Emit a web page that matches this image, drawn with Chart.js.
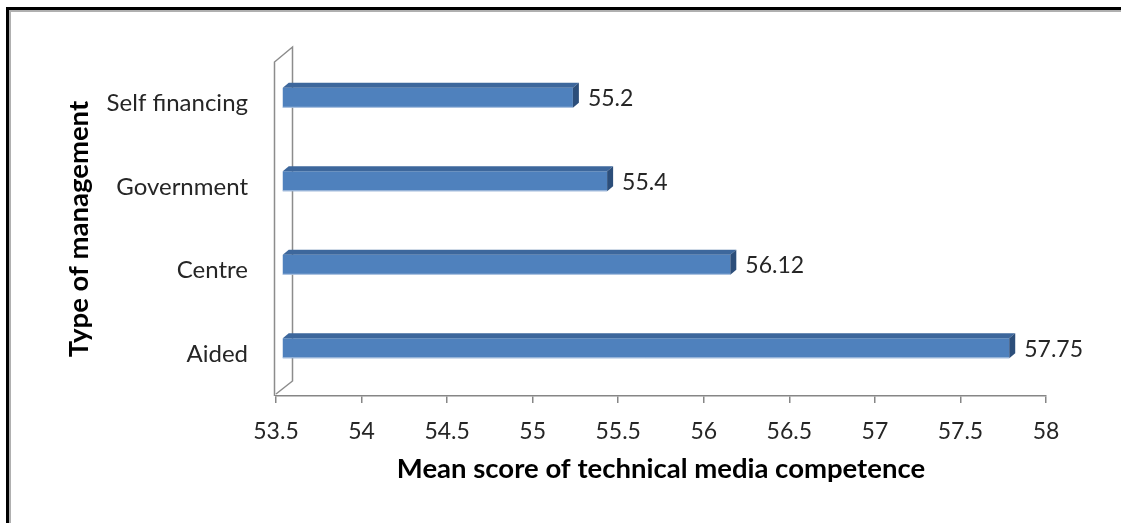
<!DOCTYPE html>
<html>
<head>
<meta charset="utf-8">
<script src="https://cdn.jsdelivr.net/npm/chart.js@4.4.1/dist/chart.umd.min.js"></script>
<style>
  html, body { margin: 0; padding: 0; background: #fff; }
  #wrap { width: 1121px; height: 523px; position: relative; }
</style>
</head>
<body>
<div id="wrap"><canvas id="chart"></canvas></div>
<script>
const categories = ["Self financing", "Government", "Centre", "Aided"];
const meanScores = [55.2, 55.4, 56.12, 57.75];
const xTicks = [53.5, 54, 54.5, 55, 55.5, 56, 56.5, 57, 57.5, 58];

const FONT = "Lato, 'Open Sans', sans-serif";
// 3d look: bars sit half way back in the wall, and have a little depth of their own
const SHIFT = { x: 6, y: -6 };
const DEPTH = { x: 6, y: -5 };
const WALL = { x: 18, y: -15 };

// black page frame (only top and left survive the crop)
const framePlugin = {
  id: "frame",
  beforeDraw(chart) {
    const ctx = chart.ctx;
    ctx.save();
    ctx.fillStyle = "#fff";
    ctx.fillRect(0, 0, chart.width, chart.height);
    ctx.strokeStyle = "#000";
    ctx.lineWidth = 3;
    ctx.beginPath();
    ctx.moveTo(7.5, chart.height);
    ctx.lineTo(7.5, 8.5);
    ctx.lineTo(chart.width, 8.5);
    ctx.stroke();
    ctx.strokeStyle = "#b0b0b0";
    ctx.lineWidth = 2;
    ctx.beginPath();
    ctx.moveTo(10, chart.height);
    ctx.lineTo(10, 11);
    ctx.lineTo(chart.width, 11);
    ctx.stroke();
    ctx.restore();
  }
};

// side wall behind the category axis
const wallPlugin = {
  id: "wall",
  beforeDatasetsDraw(chart) {
    const { ctx, chartArea } = chart;
    const x0 = chartArea.left - 1.5, top = chartArea.top, bot = chartArea.bottom;
    ctx.save();
    ctx.strokeStyle = "#8c8c8c";
    ctx.lineWidth = 1.5;
    ctx.beginPath();
    ctx.moveTo(x0, bot);
    ctx.lineTo(x0, top);
    ctx.lineTo(x0 + WALL.x, top + WALL.y);
    ctx.lineTo(x0 + WALL.x, bot + WALL.y);
    ctx.lineTo(x0 + 1.5, bot - 2);
    ctx.stroke();
    ctx.restore();
  }
};

// move the flat bars back into the wall, then add top and end faces plus value labels
const bar3dPlugin = {
  id: "bar3d",
  beforeDatasetsDraw(chart) {
    chart.ctx.save();
    chart.ctx.translate(SHIFT.x, SHIFT.y);
  },
  afterDatasetsDraw(chart) {
    const ctx = chart.ctx;
    const meta = chart.getDatasetMeta(0);
    meta.data.forEach((bar, i) => {
      const p = bar.getProps(["x", "y", "base", "height"], true);
      const x0 = Math.max(p.base, chart.chartArea.left), x1 = p.x;
      const y0 = p.y - p.height / 2, y1 = p.y + p.height / 2;
      // top face
      ctx.fillStyle = "#3d679c";
      ctx.beginPath();
      ctx.moveTo(x0, y0);
      ctx.lineTo(x0 + DEPTH.x, y0 + DEPTH.y);
      ctx.lineTo(x1 + DEPTH.x, y0 + DEPTH.y);
      ctx.lineTo(x1, y0);
      ctx.closePath();
      ctx.fill();
      // end face
      ctx.fillStyle = "#2c4e7a";
      ctx.beginPath();
      ctx.moveTo(x1, y0);
      ctx.lineTo(x1 + DEPTH.x, y0 + DEPTH.y);
      ctx.lineTo(x1 + DEPTH.x, y1 + DEPTH.y);
      ctx.lineTo(x1, y1);
      ctx.closePath();
      ctx.fill();
      // light rim along the bottom edge
      ctx.strokeStyle = "rgba(200,215,235,0.8)";
      ctx.lineWidth = 1;
      ctx.beginPath();
      ctx.moveTo(x0, y1 - 0.5);
      ctx.lineTo(x1, y1 - 0.5);
      ctx.stroke();
      // value label
      ctx.fillStyle = "#262626";
      ctx.font = "23px " + FONT;
      ctx.textAlign = "left";
      ctx.textBaseline = "middle";
      ctx.fillText(String(meanScores[i]), x1 + DEPTH.x + 9, p.y + 1);
    });
    ctx.restore();
  }
};

new Chart(document.getElementById("chart"), {
  type: "bar",
  data: {
    labels: categories,
    datasets: [{
      data: meanScores,
      base: 53.5,
      backgroundColor: "#4f81bd",
      borderWidth: 0,
      barPercentage: 0.48,
      categoryPercentage: 0.5
    }]
  },
  options: {
    indexAxis: "y",
    responsive: true,
    maintainAspectRatio: false,
    animation: false,
    layout: { padding: { left: 0, right: 75, top: 62, bottom: 0 } },
    plugins: {
      legend: { display: false },
      tooltip: { enabled: false }
    },
    scales: {
      x: {
        type: "linear",
        min: 53.5,
        max: 58,
        afterBuildTicks(scale) { scale.ticks = xTicks.map(v => ({ value: v })); },
        afterFit(scale) { scale.height = 127; },
        grid: { drawOnChartArea: false, color: "#868686", tickLength: 7, lineWidth: 1.5 },
        border: { color: "#868686", width: 1.5 },
        ticks: {
          color: "#262626",
          padding: 15,
          font: { family: FONT, size: 23 },
          callback: v => String(v)
        },
        title: {
          display: true,
          text: "Mean score of technical media competence",
          color: "#000",
          font: { family: FONT, size: 27.5, weight: "bold" },
          padding: { top: 0, bottom: 37 }
        }
      },
      y: {
        afterFit(scale) { scale.width = 276; },
        grid: { display: false },
        border: { display: false },
        ticks: {
          color: "#262626",
          padding: 20,
          font: { family: FONT, size: 24 }
        },
        title: {
          display: true,
          text: "Type of management",
          color: "#000",
          font: { family: FONT, size: 27.5, weight: "bold" },
          padding: { top: 63 }
        }
      }
    }
  },
  plugins: [framePlugin, wallPlugin, bar3dPlugin]
});
</script>
</body>
</html>
